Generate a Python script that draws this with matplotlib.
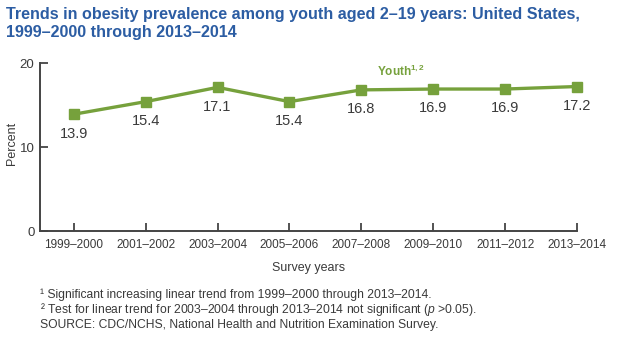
import matplotlib
matplotlib.use("Agg")
import matplotlib.pyplot as plt

# Survey periods and obesity prevalence (percent) among youth aged 2-19
periods = ["1999–2000", "2001–2002", "2003–2004", "2005–2006",
           "2007–2008", "2009–2010", "2011–2012", "2013–2014"]
prevalence = [13.9, 15.4, 17.1, 15.4, 16.8, 16.9, 16.9, 17.2]
y_ticks = [0, 10, 20]

green = "#76a13c"
blue = "#2c5da3"
dark = "#3a3a3a"

plt.rcParams["font.family"] = ["Liberation Sans", "DejaVu Sans"]
plt.rcParams["mathtext.fontset"] = "custom"
plt.rcParams["mathtext.it"] = "Liberation Sans:italic"
plt.rcParams["mathtext.rm"] = "Liberation Sans"
plt.rcParams["mathtext.bf"] = "Liberation Sans:bold"

fig = plt.figure(figsize=(6.18, 3.41), dpi=100)
ax = fig.add_axes([40 / 618, 1 - 231 / 341, (577 - 40) / 618, (231 - 63) / 341])

x = list(range(len(periods)))
ax.plot(x, prevalence, color=green, lw=2.4, marker="s", ms=7.5,
        markerfacecolor=green, markeredgecolor=green, clip_on=False, zorder=3)

for xi, v in zip(x, prevalence):
    ax.annotate(f"{v:.1f}", (xi, v), xytext=(0, -14), textcoords="offset points",
                ha="center", va="center", fontsize=10.5, color=dark)

ax.text(4.55, 19.0, r"Youth$^{\mathbf{1,2}}$", color=green, fontsize=8.5,
        fontweight="bold", ha="center", va="center")

ax.set_xlim(-0.47, 7)
ax.set_ylim(0, 20)
ax.set_xticks(x)
ax.set_xticklabels(periods, fontsize=8.5, color=dark)
ax.set_yticks(y_ticks)
ax.set_yticklabels([str(t) for t in y_ticks], fontsize=9.5, color=dark)
ax.tick_params(direction="in", length=6, width=1.3, color="#444444", pad=4)
ax.tick_params(axis="x", pad=6)

for side in ("top", "right"):
    ax.spines[side].set_visible(False)
for side in ("left", "bottom"):
    ax.spines[side].set_color("#444444")
    ax.spines[side].set_linewidth(1.4)

fig.text(12 / 618, 1 - 143 / 341, "Percent", rotation=90, fontsize=9,
         color=dark, ha="center", va="center")
ax.set_xlabel("Survey years", fontsize=9, color=dark, labelpad=8)

fig.text(6 / 618, 1 - 14 / 341,
         "Trends in obesity prevalence among youth aged 2–19 years: United States,",
         fontsize=11.6, fontweight="bold", color=blue, va="center", ha="left")
fig.text(6 / 618, 1 - 32 / 341, "1999–2000 through 2013–2014",
         fontsize=11.6, fontweight="bold", color=blue, va="center", ha="left")

notes = [
    "¹ Significant increasing linear trend from 1999–2000 through 2013–2014.",
    r"² Test for linear trend for 2003–2004 through 2013–2014 not significant ($p$ >0.05).",
    "SOURCE: CDC/NCHS, National Health and Nutrition Examination Survey.",
]
for i, note in enumerate(notes):
    fig.text(40 / 618, 1 - (298 + i * 15) / 341, note, fontsize=8.7,
             color=dark, va="baseline", ha="left")

fig.savefig("out.png", dpi=100)
